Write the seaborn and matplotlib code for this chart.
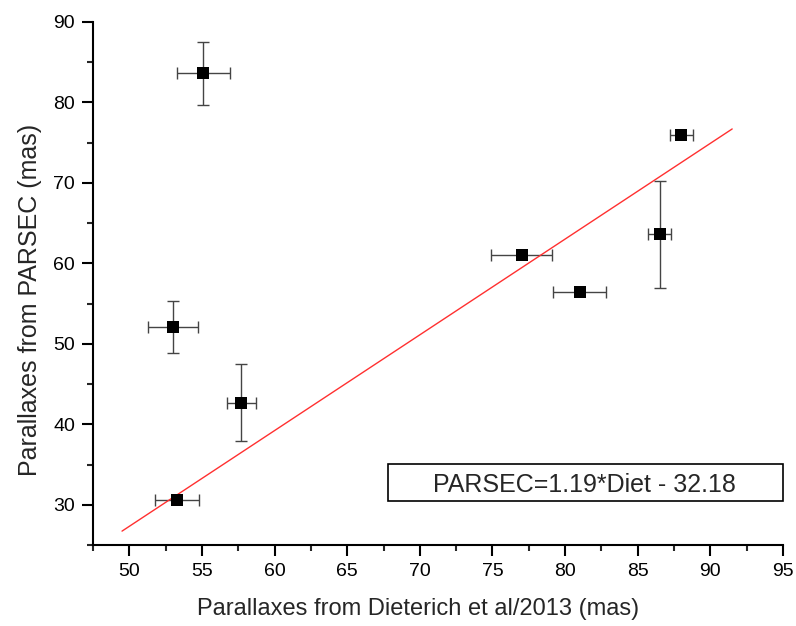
import matplotlib
matplotlib.use("Agg")
import matplotlib.pyplot as plt
import seaborn as sns
import pandas as pd
import numpy as np
from matplotlib.patches import Rectangle
from matplotlib.ticker import MultipleLocator

# Data
diet = [55.1, 53.0, 57.7, 53.3, 77.0, 81.0, 86.5, 88.0]
parsec = [83.6, 52.1, 42.7, 30.6, 61.1, 56.4, 63.6, 75.9]
diet_err = [1.8, 1.7, 1.0, 1.5, 2.1, 1.8, 0.8, 0.8]
parsec_err = [3.9, 3.2, 4.8, 0.0, 0.0, 0.0, 6.6, 0.0]
fit_slope = 1.19
fit_intercept = -32.18
fit_x = [49.5, 91.5]
fit_label = "PARSEC=1.19*Diet - 32.18"

sns.set_theme(style="ticks")
plt.rcParams['font.family'] = ['Liberation Sans', 'DejaVu Sans']

df = pd.DataFrame({"diet": diet, "parsec": parsec})
fit_df = pd.DataFrame({"x": fit_x, "y": [fit_slope * v + fit_intercept for v in fit_x]})

fig = plt.figure(figsize=(7.96, 6.26), dpi=100)
ax = fig.add_axes([0.1168, 0.1294, 0.8669, 0.8355])

ax.errorbar(diet, parsec, xerr=diet_err,
            yerr=[e if e > 0 else np.nan for e in parsec_err],
            fmt='none', ecolor='#444444', elinewidth=1.0, capsize=4, capthick=1.0, zorder=2)
sns.lineplot(data=fit_df, x="x", y="y", color='#ff3030', linewidth=1.0, ax=ax, zorder=3)
sns.scatterplot(data=df, x="diet", y="parsec", marker='s', s=75, color='black',
                edgecolor='black', linewidth=0, ax=ax, zorder=4)

ax.set_xlim(47.5, 95)
ax.set_ylim(25, 90)
ax.xaxis.set_major_locator(MultipleLocator(5))
ax.xaxis.set_minor_locator(MultipleLocator(2.5))
ax.yaxis.set_major_locator(MultipleLocator(10))
ax.yaxis.set_minor_locator(MultipleLocator(5))

for s in ['top', 'right']:
    ax.spines[s].set_visible(False)
for s in ['left', 'bottom']:
    ax.spines[s].set_linewidth(1.5)
    ax.spines[s].set_color('black')
ax.tick_params(which='major', direction='out', length=8, width=1.5, labelsize=14,
               colors='black', pad=5)
ax.tick_params(which='minor', direction='out', length=4, width=1.5)

ax.set_xlabel("Parallaxes from Dieterich et al/2013 (mas)", fontsize=17)
ax.set_ylabel("Parallaxes from PARSEC (mas)", fontsize=18)
ax.xaxis.set_label_coords(0.471, -0.102)
ax.yaxis.set_label_coords(-0.074, 0.468)

ax.add_patch(Rectangle((0.428, 0.0846), 0.572, 0.0696, transform=ax.transAxes,
                       fill=False, edgecolor='black', linewidth=1.2, clip_on=False, zorder=5))
ax.text(0.712, 0.1013, fit_label, transform=ax.transAxes, ha='center', va='baseline',
        fontsize=18, zorder=6)

fig.savefig("out.png", dpi=100)
